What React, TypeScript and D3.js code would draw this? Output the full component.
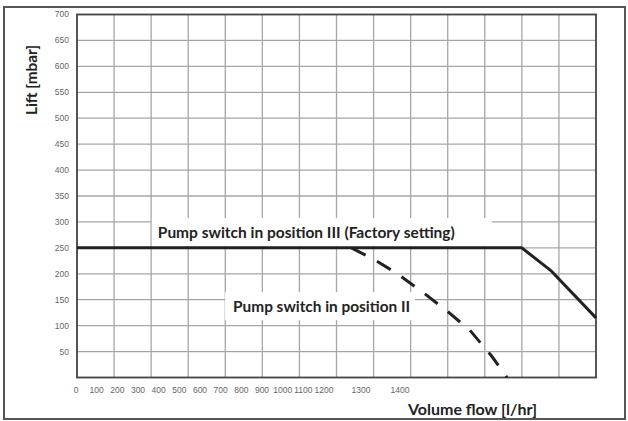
import * as d3 from "d3";
import { useEffect, useRef } from "react";

// values
const liftTicks = [50, 100, 150, 200, 250, 300, 350, 400, 450, 500, 550, 600, 650, 700];
const flowTickLabels = [0, 100, 200, 300, 400, 500, 600, 700, 800, 900, 1000, 1100, 1200, 1300, 1400];

// pump switch in position III (factory setting)
const flowIII = [0, 1200, 1280, 1400];
const liftIII = [250, 250, 205, 115];

// pump switch in position II
const flowII = [740, 800, 860, 930, 1000, 1060, 1120, 1160];
const liftII = [250, 228, 202, 166, 127, 91, 40, 0];

const labelIII = "Pump switch in position III (Factory setting)";
const labelII = "Pump switch in position II";

export default function App() {
  const ref = useRef(null);

  useEffect(() => {
    var width = 628;
    var height = 421;
    var margin = { top: 14.5, right: 32, bottom: 43.5, left: 77 };

    var svg = d3
      .select(ref.current)
      .append("svg")
      .attr("width", width)
      .attr("height", height)
      .style("position", "absolute")
      .style("left", "0px")
      .style("top", "0px")
      .style("background", "white");

    // outer frame of the scan
    svg
      .append("rect")
      .attr("x", 4)
      .attr("y", 7)
      .attr("width", 621)
      .attr("height", 412)
      .attr("fill", "none")
      .attr("stroke", "#555")
      .attr("stroke-width", 2);

    var x = d3
      .scaleLinear()
      .domain([0, 1400])
      .range([margin.left, width - margin.right]);
    var y = d3
      .scaleLinear()
      .domain([0, 700])
      .range([height - margin.bottom, margin.top]);

    // the tick labels of the original are squeezed to the left, not under the grid
    var labelX = d3
      .scaleLinear()
      .domain([0, 1200, 1300, 1400])
      .range([76, 324, 361, 400]);

    var grid = svg.append("g").attr("stroke", "#a6a6a6").attr("stroke-width", 1.3);
    grid
      .selectAll("line.v")
      .data(d3.range(100, 1400, 100))
      .enter()
      .append("line")
      .attr("x1", (d) => x(d))
      .attr("x2", (d) => x(d))
      .attr("y1", y(700))
      .attr("y2", y(0));
    grid
      .selectAll("line.h")
      .data(liftTicks.slice(0, -1))
      .enter()
      .append("line")
      .attr("x1", x(0))
      .attr("x2", x(1400))
      .attr("y1", (d) => y(d))
      .attr("y2", (d) => y(d));

    svg
      .append("rect")
      .attr("x", x(0))
      .attr("y", y(700))
      .attr("width", x(1400) - x(0))
      .attr("height", y(0) - y(700))
      .attr("fill", "none")
      .attr("stroke", "#444")
      .attr("stroke-width", 1.8);

    svg
      .append("g")
      .selectAll("text")
      .data(liftTicks)
      .enter()
      .append("text")
      .attr("x", x(0) - 8)
      .attr("y", (d) => y(d))
      .attr("dy", "0.35em")
      .attr("text-anchor", "end")
      .attr("font-family", "Liberation Sans")
      .attr("font-size", 8.5)
      .attr("fill", "#666")
      .text((d) => d);

    svg
      .append("g")
      .selectAll("text")
      .data(flowTickLabels)
      .enter()
      .append("text")
      .attr("x", (d) => labelX(d))
      .attr("y", y(0) + 15)
      .attr("text-anchor", "middle")
      .attr("font-family", "Liberation Sans")
      .attr("font-size", 8.5)
      .attr("fill", "#666")
      .text((d) => d);

    var pathIII = d3
      .line<number>()
      .x((d) => x(d))
      .y((d, i) => y(liftIII[i]));
    var pathII = d3
      .line<number>()
      .x((d) => x(d))
      .y((d, i) => y(liftII[i]));

    // annotation boxes hide the grid behind the curve labels
    var annotations = [
      { text: labelIII, flow: 218, lift: 269, len: 297, padL: 6, padR: 37 },
      { text: labelII, flow: 421, lift: 126, len: 177, padL: 8, padR: 5 },
    ];
    var ann = svg
      .append("g")
      .selectAll("g")
      .data(annotations)
      .enter()
      .append("g");
    ann
      .append("rect")
      .attr("fill", "white")
      .attr("x", (d) => x(d.flow) - d.padL)
      .attr("width", (d) => d.len + d.padL + d.padR)
      .attr("y", (d) => y(d.lift) - 20)
      .attr("height", 28);
    ann
      .append("text")
      .attr("x", (d) => x(d.flow))
      .attr("y", (d) => y(d.lift))
      .attr("textLength", (d) => d.len)
      .attr("lengthAdjust", "spacingAndGlyphs")
      .attr("font-family", "Lato")
      .attr("font-weight", 700)
      .attr("font-size", 15.5)
      .attr("fill", "#222")
      .text((d) => d.text);

    svg
      .append("path")
      .attr("d", pathII(flowII))
      .attr("fill", "none")
      .attr("stroke", "#222")
      .attr("stroke-width", 3)
      .attr("stroke-dasharray", "16,13");

    svg
      .append("path")
      .attr("d", pathIII(flowIII))
      .attr("fill", "none")
      .attr("stroke", "#222")
      .attr("stroke-width", 3)
      .attr("stroke-linejoin", "round");

    svg
      .append("text")
      .attr("transform", "translate(37,80) rotate(-90)")
      .attr("text-anchor", "middle")
      .attr("font-family", "Lato")
      .attr("font-weight", 700)
      .attr("font-size", 15)
      .attr("textLength", 70)
      .attr("lengthAdjust", "spacingAndGlyphs")
      .attr("fill", "#222")
      .text("Lift [mbar]");

    svg
      .append("text")
      .attr("x", 408)
      .attr("y", 415)
      .attr("font-family", "Lato")
      .attr("font-weight", 700)
      .attr("font-size", 16)
      .attr("textLength", 129)
      .attr("lengthAdjust", "spacingAndGlyphs")
      .attr("fill", "#222")
      .text("Volume flow [l/hr]");

    return function () {
      svg.remove();
    };
  }, []);

  return <div ref={ref} />;
}
